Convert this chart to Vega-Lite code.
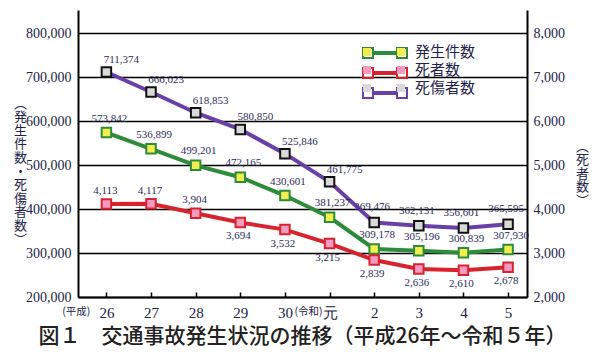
{
  "$schema": "https://vega.github.io/schema/vega-lite/v6.json",
  "width": 449,
  "height": 287,
  "autosize": {"type": "none"},
  "padding": {"left": 78, "top": 10, "right": 73, "bottom": 65},
  "background": "white",
  "title": {"text": "図１　交通事故発生状況の推移（平成26年～令和５年）", "orient": "bottom", "font": "Noto Sans CJK JP", "fontSize": 21, "fontWeight": 500, "color": "#222222", "offset": 6, "anchor": "middle"},
  "config": {"view": {"stroke": null}},
  "datasets": {
    "d": [
      {"year": "26", "series": "発生件数", "s": "発生件数", "value": 573842},
      {"year": "27", "series": "発生件数", "s": "発生件数", "value": 536899},
      {"year": "28", "series": "発生件数", "s": "発生件数", "value": 499201},
      {"year": "29", "series": "発生件数", "s": "発生件数", "value": 472165},
      {"year": "30", "series": "発生件数", "s": "発生件数", "value": 430601},
      {"year": "元", "series": "発生件数", "s": "発生件数", "value": 381237},
      {"year": "2", "series": "発生件数", "s": "発生件数", "value": 309178},
      {"year": "3", "series": "発生件数", "s": "発生件数", "value": 305196},
      {"year": "4", "series": "発生件数", "s": "発生件数", "value": 300839},
      {"year": "5", "series": "発生件数", "s": "発生件数", "value": 307930},
      {"year": "26", "series": "死傷者数", "s": "死傷者数", "value": 711374},
      {"year": "27", "series": "死傷者数", "s": "死傷者数", "value": 666023},
      {"year": "28", "series": "死傷者数", "s": "死傷者数", "value": 618853},
      {"year": "29", "series": "死傷者数", "s": "死傷者数", "value": 580850},
      {"year": "30", "series": "死傷者数", "s": "死傷者数", "value": 525846},
      {"year": "元", "series": "死傷者数", "s": "死傷者数", "value": 461775},
      {"year": "2", "series": "死傷者数", "s": "死傷者数", "value": 369476},
      {"year": "3", "series": "死傷者数", "s": "死傷者数", "value": 362131},
      {"year": "4", "series": "死傷者数", "s": "死傷者数", "value": 356601},
      {"year": "5", "series": "死傷者数", "s": "死傷者数", "value": 365595},
      {"year": "26", "series": "死者数", "s": "死者数", "value": 4113},
      {"year": "27", "series": "死者数", "s": "死者数", "value": 4117},
      {"year": "28", "series": "死者数", "s": "死者数", "value": 3904},
      {"year": "29", "series": "死者数", "s": "死者数", "value": 3694},
      {"year": "30", "series": "死者数", "s": "死者数", "value": 3532},
      {"year": "元", "series": "死者数", "s": "死者数", "value": 3215},
      {"year": "2", "series": "死者数", "s": "死者数", "value": 2839},
      {"year": "3", "series": "死者数", "s": "死者数", "value": 2636},
      {"year": "4", "series": "死者数", "s": "死者数", "value": 2610},
      {"year": "5", "series": "死者数", "s": "死者数", "value": 2678}
    ],
    "eras": [
      {"year": "26", "era": "(平成)"},
      {"year": "元", "era": "(令和)"}
    ]
  },
  "data": {"name": "d"},
  "encoding": {
    "x": {
      "field": "year", "type": "ordinal",
      "scale": {"type": "point", "domain": ["26", "27", "28", "29", "30", "元", "2", "3", "4", "5"], "padding": 0.53, "align": 0.6},
      "axis": {
        "title": null, "labelAngle": 0, "domainColor": "black", "domainWidth": 2,
        "tickColor": "black", "tickWidth": 1.5, "tickSize": -5, "labelPadding": 13,
        "labelFont": "Liberation Sans Narrow", "labelFontSize": 15, "labelColor": "#22224a"
      }
    }
  },
  "layer": [
    {
      "transform": [{"filter": "datum.series != '死者数'"}],
      "encoding": {
        "y": {
          "field": "value", "type": "quantitative",
          "scale": {"domain": [200000, 852300], "nice": false, "zero": false},
          "axis": {
            "orient": "left", "values": [200000, 300000, 400000, 500000, 600000, 700000, 800000], "format": ",d",
            "grid": true, "gridColor": "black", "gridWidth": 1.3, "gridOpacity": 1, "ticks": false,
            "domainColor": "black", "domainWidth": 2,
            "labelFont": "Liberation Sans Narrow", "labelFontSize": 14, "labelColor": "#22224a", "labelPadding": 7,
            "title": ["︵", "発", "生", "件", "数", "・", "死", "傷", "者", "数", "︶"],
            "titleAngle": 0, "titleX": -58, "titleY": 87, "titleBaseline": "top", "titleAlign": "center",
            "titleFont": "Noto Sans CJK JP", "titleFontSize": 13, "titleLineHeight": 13.6, "titleColor": "#22224a", "titleFontWeight": "normal"
          }
        }
      },
      "layer": [
        {
          "mark": {"type": "line", "strokeWidth": 4},
          "encoding": {
            "color": {
              "field": "series", "type": "nominal",
              "scale": {"domain": ["発生件数", "死者数", "死傷者数"], "range": ["#2e8b3a", "#d8232e", "#6a3fa6"]},
              "legend": {"orient": "none", "legendX": 296, "legendY": 32, "title": null, "symbolType": "M-2.2,-0.5H-1.2V0.5H-2.2Z M-1.2,-0.1H1.2V0.1H-1.2Z M1.2,-0.5H2.2V0.5H1.2Z", "symbolSize": 400, "symbolStrokeWidth": 2, "symbolFillColor": "transparent", "symbolOpacity": 1, "labelExpr": "''", "labelFontSize": 15, "labelFont": "Noto Sans CJK JP", "rowPadding": -1, "labelOffset": 21, "padding": 0}
            }
          }
        },
        {
          "mark": {"type": "point", "shape": "square", "filled": true, "size": 90, "strokeWidth": 2, "opacity": 1},
          "encoding": {
            "fill": {
              "field": "s", "type": "nominal", "sort": ["発生件数", "死者数", "死傷者数"],
              "scale": {"range": ["#f2ee4e", "#f49ac1", "#d9d9d9"]},
              "legend": {"orient": "none", "legendX": 296, "legendY": 32, "title": null, "symbolType": "M-2.1,-0.4H-1.3V0.4H-2.1Z M1.3,-0.4H2.1V0.4H1.3Z", "symbolSize": 400, "symbolStrokeWidth": 0, "symbolOpacity": 1, "labelFontSize": 15, "labelFont": "Noto Sans CJK JP", "labelColor": "#22224a", "rowPadding": -1, "labelOffset": 21, "padding": 0}
            },
            "stroke": {
              "field": "s", "type": "nominal", "sort": ["発生件数", "死者数", "死傷者数"],
              "scale": {"range": ["#2e8b3a", "#d8232e", "#111111"]},
              "legend": null
            }
          }
        },
        {
          "transform": [{"filter": "datum.series == '発生件数'"}],
          "mark": {"type": "text", "font": "Liberation Sans Narrow", "fontSize": 11, "fill": "#2b2b5e", "dx": 3, "dy": -14},
          "encoding": {"text": {"field": "value", "type": "quantitative", "format": ","}}
        },
        {
          "transform": [{"filter": "datum.series == '死傷者数' && datum.value > 400000"}],
          "mark": {"type": "text", "font": "Liberation Sans Narrow", "fontSize": 11, "fill": "#2b2b5e", "dx": 15, "dy": -12},
          "encoding": {"text": {"field": "value", "type": "quantitative", "format": ","}}
        },
        {
          "transform": [{"filter": "datum.series == '死傷者数' && datum.value < 400000"}],
          "mark": {"type": "text", "font": "Liberation Sans Narrow", "fontSize": 11, "fill": "#2b2b5e", "dx": -2, "dy": -15},
          "encoding": {"text": {"field": "value", "type": "quantitative", "format": ","}}
        }
      ]
    },
    {
      "transform": [{"filter": "datum.series == '死者数'"}],
      "encoding": {
        "y": {
          "field": "value", "type": "quantitative",
          "scale": {"domain": [2000, 8523], "nice": false, "zero": false},
          "axis": {
            "orient": "right", "values": [2000, 3000, 4000, 5000, 6000, 7000, 8000], "format": ",d",
            "grid": false, "ticks": false, "domainColor": "black", "domainWidth": 2,
            "labelFont": "Liberation Sans Narrow", "labelFontSize": 14, "labelColor": "#22224a", "labelPadding": 6,
            "title": ["︵", "死", "者", "数", "︶"],
            "titleAngle": 0, "titleX": 55, "titleY": 130, "titleBaseline": "top", "titleAlign": "center",
            "titleFont": "Noto Sans CJK JP", "titleFontSize": 13, "titleLineHeight": 13.6, "titleColor": "#22224a", "titleFontWeight": "normal"
          }
        }
      },
      "layer": [
        {
          "mark": {"type": "line", "strokeWidth": 4},
          "encoding": {
            "color": {
              "field": "series", "type": "nominal",
              "scale": {"domain": ["発生件数", "死者数", "死傷者数"], "range": ["#2e8b3a", "#d8232e", "#6a3fa6"]},
              "legend": {"orient": "none", "legendX": 296, "legendY": 32, "title": null, "symbolType": "M-2.2,-0.5H-1.2V0.5H-2.2Z M-1.2,-0.1H1.2V0.1H-1.2Z M1.2,-0.5H2.2V0.5H1.2Z", "symbolSize": 400, "symbolStrokeWidth": 2, "symbolFillColor": "transparent", "symbolOpacity": 1, "labelExpr": "''", "labelFontSize": 15, "labelFont": "Noto Sans CJK JP", "rowPadding": -1, "labelOffset": 21, "padding": 0}
            }
          }
        },
        {
          "mark": {"type": "point", "shape": "square", "filled": true, "size": 90, "strokeWidth": 2, "opacity": 1},
          "encoding": {
            "fill": {
              "field": "s", "type": "nominal", "sort": ["発生件数", "死者数", "死傷者数"],
              "scale": {"range": ["#f2ee4e", "#f49ac1", "#d9d9d9"]},
              "legend": {"orient": "none", "legendX": 296, "legendY": 32, "title": null, "symbolType": "M-2.1,-0.4H-1.3V0.4H-2.1Z M1.3,-0.4H2.1V0.4H1.3Z", "symbolSize": 400, "symbolStrokeWidth": 0, "symbolOpacity": 1, "labelFontSize": 15, "labelFont": "Noto Sans CJK JP", "labelColor": "#22224a", "rowPadding": -1, "labelOffset": 21, "padding": 0}
            },
            "stroke": {
              "field": "s", "type": "nominal", "sort": ["発生件数", "死者数", "死傷者数"],
              "scale": {"range": ["#2e8b3a", "#d8232e", "#111111"]},
              "legend": null
            }
          }
        },
        {
          "transform": [{"filter": "datum.value > 3800"}],
          "mark": {"type": "text", "font": "Liberation Sans Narrow", "fontSize": 11, "fill": "#2b2b5e", "dx": -1, "dy": -13},
          "encoding": {"text": {"field": "value", "type": "quantitative", "format": ","}}
        },
        {
          "transform": [{"filter": "datum.value < 3800"}],
          "mark": {"type": "text", "font": "Liberation Sans Narrow", "fontSize": 11, "fill": "#2b2b5e", "dx": -2, "dy": 14},
          "encoding": {"text": {"field": "value", "type": "quantitative", "format": ","}}
        }
      ]
    },
    {
      "data": {"name": "eras"},
      "encoding": {
        "y": {"datum": 200000, "type": "quantitative", "scale": {"domain": [200000, 852300], "nice": false, "zero": false}, "axis": null},
        "text": {"field": "era", "type": "nominal"}
      },
      "layer": [
        {
          "transform": [{"filter": "datum.year == '26'"}],
          "mark": {"type": "text", "font": "Noto Sans CJK JP", "fontSize": 10.5, "fill": "#22224a", "align": "right", "baseline": "top", "dx": -16, "dy": 10}
        },
        {
          "transform": [{"filter": "datum.year == '元'"}],
          "mark": {"type": "text", "font": "Noto Sans CJK JP", "fontSize": 10.5, "fill": "#22224a", "align": "right", "baseline": "top", "dx": -7, "dy": 10}
        }
      ]
    }
  ],
  "resolve": {"scale": {"y": "independent"}, "axis": {"y": "independent"}}
}
